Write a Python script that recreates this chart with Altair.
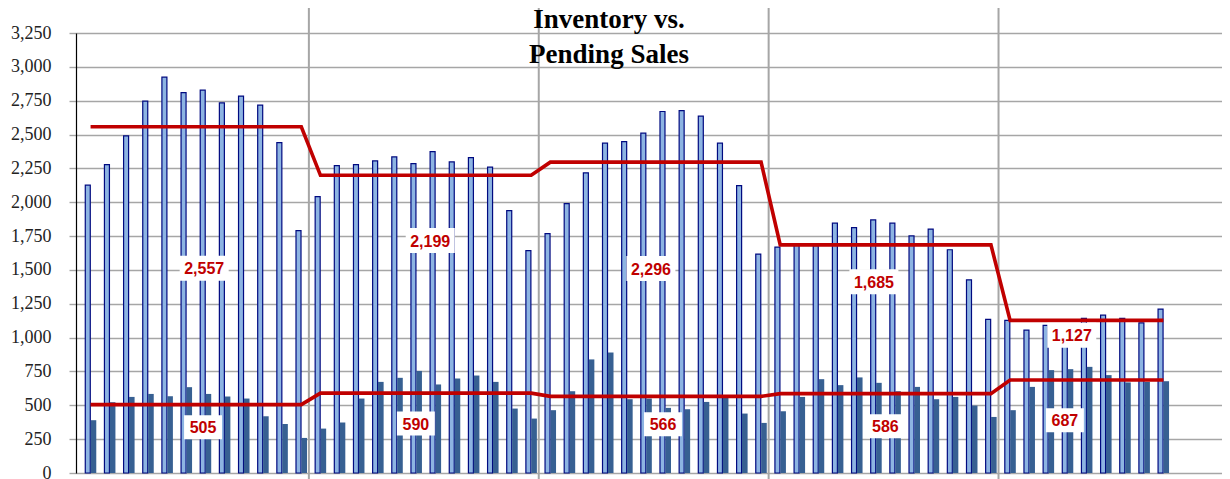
import altair as alt
import pandas as pd

# ---- data ----
inventory = [
    2126, 2278, 2490, 2747, 2924, 2810, 2828, 2734, 2784, 2717, 2441, 1790,
    2041, 2271, 2278, 2305, 2335, 2285, 2374, 2298, 2330, 2259, 1938, 1642,
    1768, 1990, 2217, 2436, 2448, 2510, 2670, 2677, 2636, 2436, 2123, 1617,
    1669, 1694, 1679, 1845, 1812, 1869, 1845, 1751, 1802, 1649, 1427, 1135,
    1127, 1055, 1090, 1085, 1142, 1166, 1142, 1109, 1211,
]
pending = [
    390, 523, 562, 584, 567, 634, 584, 565, 550, 419, 362, 259,
    328, 373, 550, 673, 703, 754, 654, 698, 720, 673, 476, 402,
    464, 604, 839, 890, 545, 550, 481, 471, 525, 555, 439, 370,
    456, 562, 693, 649, 706, 666, 604, 636, 545, 562, 498, 414,
    464, 636, 760, 767, 784, 723, 669, 673, 678,
]
avg_inventory = [2557, 2199, 2296, 1685, 1127]
avg_pending = [505, 590, 566, 586, 687]
inv_label_month = [6.43, 18.23, 29.75, 41.39, 51.72]
inv_label_value = [1512, 1717, 1510, 1413, 1018]
pend_label_month = [6.37, 17.48, 30.38, 41.99, 51.36]
pend_label_value = [338, 365, 360, 345, 390]
year_bounds = [12, 24, 36, 48]
title_text = "Inventory vs.\nPending Sales"
y_ticks = list(range(0, 3251, 250))

n = len(inventory)
df = pd.DataFrame({
    "m": [i + 0.5 for i in range(n)],
    "inventory": inventory,
    "pending": pending,
    "inv_avg": [avg_inventory[i // 12] for i in range(n)],
    "pend_avg": [avg_pending[i // 12] for i in range(n)],
})
inv_labels = pd.DataFrame({
    "m": inv_label_month, "v": inv_label_value,
    "txt": [f"{a:,}" for a in avg_inventory],
})
pend_labels = pd.DataFrame({
    "m": pend_label_month, "v": pend_label_value,
    "txt": [f"{a:,}" for a in avg_pending],
})
bounds = pd.DataFrame({"b": year_bounds})
title_df = pd.DataFrame({"t": [title_text]})

xs = alt.Scale(domain=[0, 59.3], nice=False, zero=False)
ys = alt.Scale(domain=[0, 3250], nice=False)
y_axis = alt.Axis(
    values=y_ticks, format=",d", title=None,
    grid=True, gridColor="#A6A6A6", gridWidth=1.4,
    domain=True, domainColor="#000000", domainWidth=1.2,
    ticks=True, tickColor="#A6A6A6", tickSize=7, tickWidth=1.4,
    labelFont="Liberation Serif", labelFontSize=18, labelColor="#222222",
    labelPadding=18,
)

def X(field):
    return alt.X(f"{field}:Q", scale=xs, axis=None)

def Y(field):
    return alt.Y(f"{field}:Q", scale=ys, axis=y_axis)

base = alt.Chart(df)

seps = alt.Chart(bounds).mark_rule(color="#A6A6A6", strokeWidth=2, xOffset=-2).encode(
    x=X("b"), y=alt.value(-26), y2=alt.value(447)
)

inv_bars = base.mark_bar(size=5, xOffset=-2.8, fill="#8DB4E2",
                         stroke="#000A80", strokeWidth=1.2).encode(
    x=X("m"), y=Y("inventory")
)
pend_bars = base.mark_bar(size=5.6, xOffset=2.9, color="#376092").encode(
    x=X("m"), y=Y("pending")
)
inv_line = base.mark_line(color="#C00000", strokeWidth=3.6).encode(
    x=X("m"), y=Y("inv_avg")
)
pend_line = base.mark_line(color="#C00000", strokeWidth=3.6).encode(
    x=X("m"), y=Y("pend_avg")
)

inv_box = alt.Chart(inv_labels).mark_point(
    shape="M-1.96,-1L1.96,-1L1.96,1L-1.96,1Z", size=625,
    filled=True, fill="white", opacity=1, strokeWidth=0,
).encode(x=X("m"), y=Y("v"))
pend_box = alt.Chart(pend_labels).mark_point(
    shape="M-1.58,-1L1.58,-1L1.58,1L-1.58,1Z", size=576,
    filled=True, fill="white", opacity=1, strokeWidth=0,
).encode(x=X("m"), y=Y("v"))

label_style = dict(font="Liberation Sans", fontSize=16, fontWeight="bold",
                   color="#C00000", align="center", baseline="middle", dy=1)
inv_text = alt.Chart(inv_labels).mark_text(**label_style).encode(
    x=X("m"), y=Y("v"), text="txt:N"
)
pend_text = alt.Chart(pend_labels).mark_text(**label_style).encode(
    x=X("m"), y=Y("v"), text="txt:N"
)

title = alt.Chart(title_df).mark_text(
    font="Liberation Serif", fontSize=27, fontWeight="bold", color="#000000",
    align="center", baseline="alphabetic", lineBreak="\n", lineHeight=35,
).encode(x=alt.value(533), y=alt.value(-4.7), text="t:N")

chart = alt.layer(
    seps, inv_bars, pend_bars, inv_line, pend_line,
    inv_box, pend_box, inv_text, pend_text, title,
).properties(
    width=1146, height=440,
    padding={"left": 68, "top": 25, "right": 0, "bottom": 6},
    autosize=alt.AutoSizeParams(type="none"),
).configure_view(stroke=None).configure(background="white")

chart.save("out.html", embed_options={"renderer": "svg", "actions": False})
